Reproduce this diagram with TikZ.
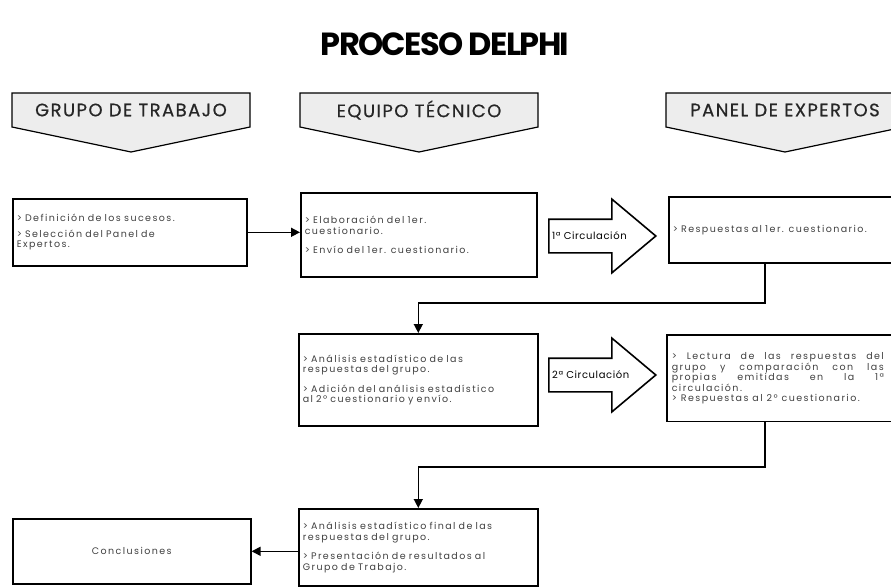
\documentclass[tikz,border=0pt]{standalone}
\usepackage{fontspec}
\setmainfont{Poppins}
\newfontfamily\cajafont[LetterSpace=15]{Poppins}
\newfontfamily\cabfont[LetterSpace=8,FakeBold=0.6]{Poppins}
\newfontfamily\circfont[LetterSpace=6]{Poppins}
\newfontfamily\titfont[LetterSpace=-5]{Poppins}
\usetikzlibrary{arrows.meta,shapes.arrows}

\begin{document}
\begin{tikzpicture}[x=1pt,y=-1pt,
    caja/.style 2 args={draw,line width=1.6pt,inner xsep=4pt,inner ysep=3pt,
      text width=#1,minimum height=#2,align=left,anchor=north west,
      font=\cajafont\fontsize{9.5}{10.5}\selectfont,text=black!75},
    cabecera/.style={font=\cabfont\fontsize{18}{18}\selectfont,text=black!85},
    circ/.style={single arrow,draw,line width=1.6pt,anchor=tail,
      single arrow head extend=20pt,single arrow tip angle=80,
      minimum height=107pt,inner xsep=0pt,inner ysep=16pt},
    circtxt/.style={anchor=west,inner xsep=4pt,font=\circfont\fontsize{10}{10}\selectfont},
    flecha/.style={line width=1.5pt,-{Triangle[length=9pt,width=9pt]}}]
  \useasboundingbox (0,0) rectangle (891,586);

  \node[font=\titfont\bfseries\fontsize{32}{32}\selectfont] (titulo) at (445,44)
    {PROCESO DELPHI};

  % cabeceras
  \foreach \nombre/\cx/\etiq in {hGT/131/GRUPO DE TRABAJO,
      hET/419/EQUIPO TÉCNICO, hPE/785/PANEL DE EXPERTOS} {
    \draw[line width=1.2pt,fill=black!7] (\cx-119,93) -- (\cx+119,93)
      -- (\cx+119,127) -- (\cx,152) -- (\cx-119,127) -- cycle;
    \node[cabecera] (\nombre) at (\cx,110) {\etiq};
  }

  % cajas
  \node[caja={226pt}{67pt}] (gt1) at (12,198)
    {> Definición de los sucesos.\\[5pt] > Selección del Panel de\\ Expertos.};
  \node[caja={228pt}{84pt}] (et1) at (300,192)
    {> Elaboración del 1er.\\ cuestionario.\\[9pt] > Envío del 1er. cuestionario.};
  \node[caja={232pt}{66pt}] (pe1) at (668,196)
    {> Respuestas al 1er. cuestionario.};
  \node[caja={231pt}{92pt}] (et2) at (298,333)
    {> Análisis estadístico de las\\ respuestas del grupo.\\[9pt]
     > Adición del análisis estadístico\\ al 2º cuestionario y envío.};
  \node[caja={212pt}{85pt},draw=none,align=justify] (pe2) at (667,335)
    {> Lectura de las respuestas del\linebreak
     grupo y comparación con las\linebreak propias emitidas en la 1ª\linebreak
     circulación.\\ > Respuestas al 2º cuestionario.};
  \draw[line width=1.6pt] (pe2.north west) rectangle ([xshift=20pt]pe2.south east);
  \node[caja={231pt}{77pt}] (et3) at (298,508)
    {> Análisis estadístico final de las\\ respuestas del grupo.\\[9pt]
     > Presentación de resultados al\\ Grupo de Trabajo.};
  \node[caja={230pt}{65pt},align=center] (gt2) at (12,518) {Conclusiones};

  % circulaciones
  \node[circ] (circ1) at (548,236) {};
  \node[circtxt] (circ1t) at (circ1.tail) {1ª Circulación};
  \node[circ] (circ2) at (548,375) {};
  \node[circtxt] (circ2t) at (circ2.tail) {2ª Circulación};

  % conectores
  \draw[flecha] (gt1.east) -- (gt1.east -| et1.west);
  \draw[flecha] (765,0 |- pe1.south) -- (765,303) -| (et2.north);
  \draw[flecha] (765,0 |- pe2.south) -- (765,467) -| (et3.north);
  \draw[flecha] (et3.west |- gt2.east) -- (gt2.east);
\end{tikzpicture}
\end{document}
